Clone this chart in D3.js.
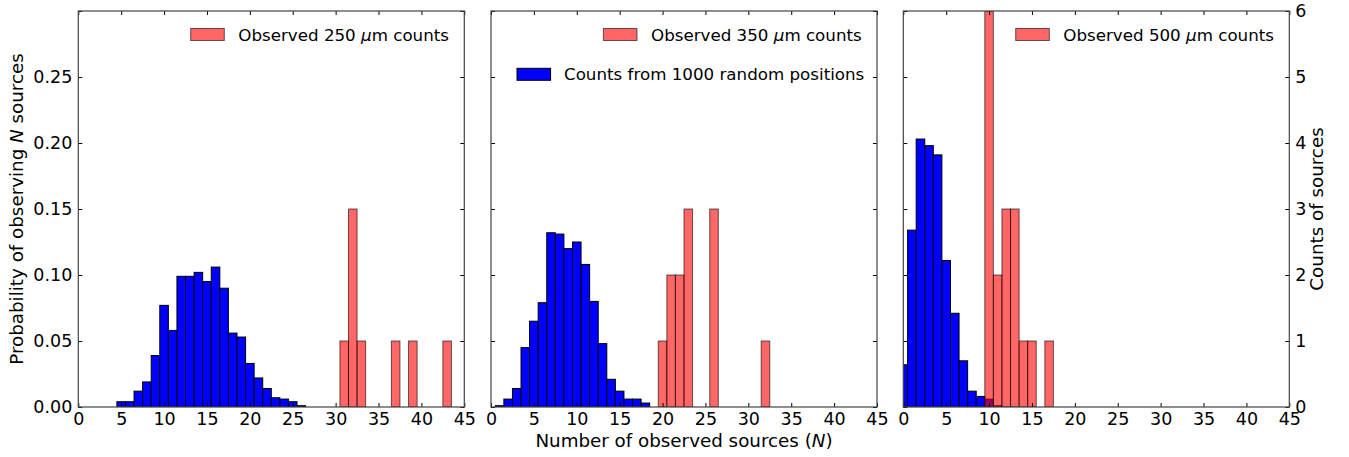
<!DOCTYPE html>
<html>
<head>
<meta charset="utf-8">
<script src="https://cdn.jsdelivr.net/npm/d3@7"></script>
<style>
  html, body { margin: 0; padding: 0; background: #fff; }
  svg { display: block; }
  text { font-family: "DejaVu Sans", sans-serif; fill: #000; }
</style>
</head>
<body>
<svg id="chart" width="1349" height="457"></svg>
<script>
// ---------------- data ----------------
// Random-position probability histograms (bin centre N -> probability)
const blue250N = [5,6,7,8,9,10,11,12,13,14,15,16,17,18,19,20,21,22,23,24,25,26];
const blue250P = [0.004,0.004,0.012,0.019,0.039,0.077,0.058,0.099,0.099,0.102,0.095,0.106,0.090,0.056,0.053,0.033,0.022,0.014,0.007,0.006,0.004,0.001];

const blue350N = [1,2,3,4,5,6,7,8,9,10,11,12,13,14,15,16,17,18];
const blue350P = [0.001,0.006,0.014,0.045,0.065,0.079,0.132,0.131,0.120,0.125,0.108,0.080,0.048,0.021,0.012,0.006,0.006,0.003];

const blue500N = [0,1,2,3,4,5,6,7,8,9,10,11];
const blue500P = [0.032,0.134,0.203,0.198,0.191,0.111,0.071,0.035,0.012,0.008,0.006,0.001];

// Observed source counts (bin centre N -> number of fields)
const red250N = [31,32,33,37,39,43];
const red250C = [1,3,1,1,1,1];
const red350N = [20,21,22,23,26,32];
const red350C = [1,2,2,3,3,1];
const red500N = [10,11,12,13,14,15,17];
const red500C = [6,2,3,3,1,1,1];

const xTicks = [0,5,10,15,20,25,30,35,40,45];
const yTicks = [0.00,0.05,0.10,0.15,0.20,0.25,0.30];
const yTickLabels = ["0.00","0.05","0.10","0.15","0.20","0.25",""];
const countTicks = [0,1,2,3,4,5,6];

const redLabels = ["Observed 250 ", "Observed 350 ", "Observed 500 "];
const blueLabel = "Counts from 1000 random positions";

// ---------------- layout ----------------
const panelsLeft = [78.3, 491, 903.3];
const panelW = 386;
const plotTop = 11, plotBottom = 407;

const svg = d3.select("#chart");
const tickFont = 17.5, legFont = 16.7, labFont = 18.3;

const panels = [
  {bN: blue250N, bP: blue250P, rN: red250N, rC: red250C, label: redLabels[0]},
  {bN: blue350N, bP: blue350P, rN: red350N, rC: red350C, label: redLabels[1]},
  {bN: blue500N, bP: blue500P, rN: red500N, rC: red500C, label: redLabels[2]}
];

panels.forEach((p, i) => {
  const x0 = panelsLeft[i];
  const x = d3.scaleLinear().domain([0,45]).range([x0, x0 + panelW]);
  const y = d3.scaleLinear().domain([0,0.30]).range([plotBottom, plotTop]);
  const yc = d3.scaleLinear().domain([0,6]).range([plotBottom, plotTop]);

  const g = svg.append("g");
  const clipId = "clip" + i;
  svg.append("clipPath").attr("id", clipId).append("rect")
    .attr("x", x0).attr("y", plotTop).attr("width", panelW).attr("height", plotBottom - plotTop);

  const bars = g.append("g").attr("clip-path", `url(#${clipId})`);
  // blue histogram
  bars.selectAll("rect.b").data(p.bN.map((n, k) => ({n, v: p.bP[k]}))).enter()
    .append("rect").attr("class","b")
    .attr("x", d => x(d.n - 0.5)).attr("width", d => x(d.n + 0.5) - x(d.n - 0.5))
    .attr("y", d => y(d.v)).attr("height", d => plotBottom - y(d.v))
    .attr("fill", "#0000ff").attr("stroke", "#000").attr("stroke-width", 1);
  // red histogram (counts)
  bars.selectAll("rect.r").data(p.rN.map((n, k) => ({n, v: p.rC[k]}))).enter()
    .append("rect").attr("class","r")
    .attr("x", d => x(d.n - 0.5)).attr("width", d => x(d.n + 0.5) - x(d.n - 0.5))
    .attr("y", d => yc(d.v)).attr("height", d => plotBottom - yc(d.v))
    .attr("fill", "rgba(255,0,0,0.6)").attr("stroke", "rgba(0,0,0,0.6)").attr("stroke-width", 1);

  // axes: bottom with labels
  const axB = g.append("g").attr("transform", `translate(0,${plotBottom})`)
    .call(d3.axisBottom(x).tickValues(xTicks).tickSizeInner(-4).tickSizeOuter(0).tickPadding(5.5));
  axB.select(".domain").remove();
  axB.selectAll("text").attr("font-size", tickFont).attr("font-family", "DejaVu Sans").attr("dy", "0.71em");
  const axT = g.append("g").attr("transform", `translate(0,${plotTop})`)
    .call(d3.axisTop(x).tickValues(xTicks).tickSizeInner(-4).tickSizeOuter(0).tickFormat(""));
  axT.select(".domain").remove();

  const axL = g.append("g").attr("transform", `translate(${x0},0)`)
    .call(d3.axisLeft(y).tickValues(yTicks).tickSizeInner(-4).tickSizeOuter(0).tickPadding(6)
      .tickFormat((d, k) => i === 0 ? yTickLabels[k] : ""));
  axL.select(".domain").remove();
  axL.selectAll("text").attr("font-size", tickFont).attr("font-family", "DejaVu Sans");

  const axR = g.append("g").attr("transform", `translate(${x0 + panelW},0)`)
    .call(d3.axisRight(yc).tickValues(countTicks).tickSizeInner(-4).tickSizeOuter(0).tickPadding(6)
      .tickFormat(d => i === 2 ? d : ""));
  axR.select(".domain").remove();
  axR.selectAll("text").attr("font-size", tickFont).attr("font-family", "DejaVu Sans");

  g.selectAll(".tick line").attr("stroke", "#000");

  // frame
  g.append("rect").attr("x", x0).attr("y", plotTop).attr("width", panelW).attr("height", plotBottom - plotTop)
    .attr("fill", "none").attr("stroke", "#444").attr("stroke-width", 1.2);

  // red legend
  g.append("rect").attr("x", x0 + 112.4).attr("y", 28.5).attr("width", 33.6).attr("height", 12)
    .attr("fill", "rgba(255,0,0,0.6)").attr("stroke", "rgba(0,0,0,0.6)").attr("stroke-width", 1);
  const t = g.append("text").attr("x", x0 + 160).attr("y", 40.5).attr("font-size", legFont);
  t.append("tspan").text(p.label);
  t.append("tspan").attr("font-style", "italic").text("μ");
  t.append("tspan").text("m counts");

  if (i === 1) {
    g.append("rect").attr("x", x0 + 26).attr("y", 68.3).attr("width", 33.6).attr("height", 12)
      .attr("fill", "#0000ff").attr("stroke", "#000").attr("stroke-width", 1);
    g.append("text").attr("x", x0 + 73).attr("y", 80.3).attr("font-size", legFont).text(blueLabel);
  }
});

// axis titles
const xl = svg.append("text").attr("x", 684).attr("y", 447).attr("text-anchor", "middle").attr("font-size", labFont);
xl.append("tspan").text("Number of observed sources (");
xl.append("tspan").attr("font-style", "italic").text("N");
xl.append("tspan").text(")");

const yl = svg.append("text").attr("transform", "translate(23,209) rotate(-90)").attr("text-anchor", "middle").attr("font-size", labFont);
yl.append("tspan").text("Probability of observing ");
yl.append("tspan").attr("font-style", "italic").text("N");
yl.append("tspan").text(" sources");

svg.append("text").attr("transform", "translate(1323,209) rotate(-90)").attr("text-anchor", "middle")
  .attr("font-size", labFont).text("Counts of sources");
</script>
</body>
</html>
